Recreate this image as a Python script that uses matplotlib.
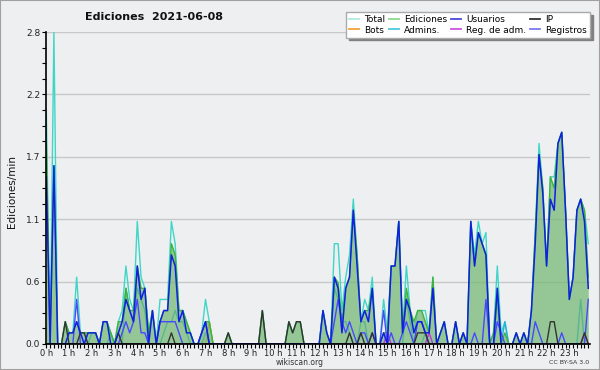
import matplotlib
matplotlib.use('Agg')
import matplotlib.pyplot as plt
import numpy as np
from matplotlib.lines import Line2D
from matplotlib.patches import Rectangle
from matplotlib.ticker import FixedLocator, MultipleLocator

# edits per minute, one value per 10-minute bin (6 per hour)
total = [
    2.1, 0, 2.8, 0, 0, 0.2,        # 0h
    0.1, 0.1, 0.6, 0.1, 0.1, 0.1,  # 1h
    0.1, 0.1, 0, 0.2, 0.2, 0.1,    # 2h
    0, 0.2, 0.3, 0.7, 0.4, 0.3,    # 3h
    1.1, 0.6, 0.5, 0.1, 0.3, 0,    # 4h
    0.4, 0.4, 0.4, 1.1, 0.9, 0.3,  # 5h
    0.3, 0.2, 0.1, 0, 0, 0.1,      # 6h
    0.4, 0.2, 0, 0, 0, 0,          # 7h
    0.1, 0, 0, 0, 0, 0,            # 8h
    0, 0, 0, 0.3, 0, 0,            # 9h
    0, 0, 0, 0, 0.2, 0.1,          # 10h
    0.2, 0.2, 0, 0, 0, 0,          # 11h
    0, 0.3, 0.1, 0, 0.9, 0.9,      # 12h
    0.3, 0.6, 0.8, 1.3, 0.8, 0.2,  # 13h
    0.4, 0.3, 0.6, 0, 0, 0.4,      # 14h
    0.1, 0.7, 0.7, 1.1, 0.1, 0.7,  # 15h
    0.3, 0.1, 0.3, 0.3, 0.3, 0.1,  # 16h
    0.6, 0, 0.1, 0.2, 0, 0,        # 17h
    0.2, 0, 0.1, 0, 1.1, 0.8,      # 18h
    1.1, 0.9, 1.0, 0, 0.1, 0.7,    # 19h
    0.1, 0.2, 0, 0, 0.1, 0,        # 20h
    0.1, 0, 0.3, 1.0, 1.8, 1.4,    # 21h
    0.7, 1.5, 1.5, 1.8, 1.9, 1.2,  # 22h
    0.4, 0.6, 1.2, 1.3, 1.2, 0.9,  # 23h
]
ediciones = [
    1.8, 0, 1.6, 0, 0, 0.2,
    0.1, 0.1, 0.2, 0.1, 0.1, 0.1,
    0.1, 0.1, 0, 0.2, 0.2, 0.1,
    0, 0.2, 0.2, 0.5, 0.3, 0.3,
    0.7, 0.5, 0.5, 0.1, 0.3, 0,
    0.2, 0.3, 0.3, 0.9, 0.8, 0.3,
    0.3, 0.2, 0.1, 0, 0, 0.1,
    0.2, 0.2, 0, 0, 0, 0,
    0.1, 0, 0, 0, 0, 0,
    0, 0, 0, 0.3, 0, 0,
    0, 0, 0, 0, 0.2, 0.1,
    0.2, 0.2, 0, 0, 0, 0,
    0, 0.3, 0.1, 0, 0.6, 0.55,
    0.2, 0.5, 0.6, 1.2, 0.8, 0.2,
    0.3, 0.3, 0.5, 0, 0, 0.1,
    0.1, 0.7, 0.7, 1.1, 0.1, 0.5,
    0.3, 0.2, 0.3, 0.3, 0.2, 0.1,
    0.6, 0, 0.1, 0.2, 0, 0,
    0.2, 0, 0.1, 0, 1.1, 0.7,
    1.0, 0.9, 0.8, 0, 0.1, 0.5,
    0, 0.1, 0, 0, 0.1, 0,
    0.1, 0, 0.3, 1.0, 1.7, 1.4,
    0.7, 1.5, 1.4, 1.8, 1.9, 1.2,
    0.4, 0.6, 1.2, 1.3, 1.2, 0.6,
]
usuarios = [
    1.5, 0, 1.6, 0, 0, 0,
    0.1, 0.1, 0.2, 0.1, 0, 0.1,
    0.1, 0.1, 0, 0.2, 0.2, 0,
    0, 0.1, 0.2, 0.4, 0.3, 0.2,
    0.7, 0.4, 0.5, 0, 0.3, 0,
    0.2, 0.3, 0.3, 0.8, 0.7, 0.2,
    0.3, 0.1, 0.1, 0, 0, 0.1,
    0.2, 0, 0, 0, 0, 0,
    0, 0, 0, 0, 0, 0,
    0, 0, 0, 0, 0, 0,
    0, 0, 0, 0, 0, 0,
    0, 0, 0, 0, 0, 0,
    0, 0.3, 0.1, 0, 0.6, 0.5,
    0.1, 0.5, 0.6, 1.2, 0.7, 0.2,
    0.3, 0.2, 0.5, 0, 0, 0.1,
    0, 0.7, 0.7, 1.1, 0.1, 0.4,
    0.3, 0.1, 0.2, 0.2, 0.1, 0.1,
    0.5, 0, 0.1, 0.2, 0, 0,
    0.2, 0, 0.1, 0, 1.1, 0.7,
    1.0, 0.9, 0.8, 0, 0, 0.5,
    0, 0, 0, 0, 0.1, 0,
    0.1, 0, 0.3, 0.9, 1.7, 1.35,
    0.7, 1.3, 1.2, 1.8, 1.9, 1.2,
    0.4, 0.6, 1.2, 1.3, 1.1, 0.5,
]
ip = [
    0, 0, 0, 0, 0, 0.2,
    0, 0, 0, 0.1, 0.1, 0,
    0, 0, 0, 0, 0, 0,
    0, 0.1, 0, 0, 0, 0,
    0, 0, 0, 0, 0, 0,
    0, 0, 0, 0.1, 0, 0,
    0, 0, 0, 0, 0, 0,
    0, 0, 0, 0, 0, 0,
    0.1, 0, 0, 0, 0, 0,
    0, 0, 0, 0.3, 0, 0,
    0, 0, 0, 0, 0.2, 0.1,
    0.2, 0.2, 0, 0, 0, 0,
    0, 0, 0, 0, 0, 0,
    0, 0, 0.1, 0, 0, 0.1,
    0, 0, 0.1, 0, 0, 0,
    0, 0, 0, 0, 0, 0,
    0, 0, 0.1, 0.1, 0.1, 0,
    0, 0, 0, 0, 0, 0,
    0, 0, 0, 0, 0, 0,
    0, 0, 0, 0, 0, 0,
    0, 0, 0, 0, 0, 0,
    0, 0, 0, 0, 0, 0,
    0, 0.2, 0.2, 0, 0, 0,
    0, 0, 0, 0, 0.1, 0,
]
bots = [0] * 43 + [0.2] + [0] * 100
admins = [
    0, 0, 0, 0, 0, 0,
    0, 0, 0, 0, 0, 0,
    0.1, 0.1, 0, 0, 0, 0.1,
    0, 0, 0, 0.5, 0.3, 0.2,
    0.5, 0.4, 0.3, 0, 0, 0,
    0, 0.1, 0.2, 0.2, 0.3, 0.2,
    0.2, 0.1, 0, 0, 0, 0,
    0.1, 0, 0, 0, 0, 0,
    0, 0, 0, 0, 0, 0,
    0, 0, 0, 0, 0, 0,
    0, 0, 0, 0, 0, 0,
    0, 0, 0, 0, 0, 0,
    0, 0, 0, 0, 0.5, 0.4,
    0.2, 0.2, 0.1, 0, 0, 0.2,
    0.2, 0, 0, 0, 0, 0,
    0, 0, 0, 0, 0, 0.4,
    0.2, 0, 0, 0, 0.1, 0,
    0, 0, 0, 0, 0, 0,
    0, 0, 0, 0, 0, 0,
    0, 0, 0, 0, 0, 0.4,
    0, 0.2, 0, 0, 0, 0,
    0, 0, 0, 0, 0, 0,
    0, 0, 0, 0, 0, 0,
    0, 0, 0, 0.4, 0, 0,
]
reg_adm = [0] * 90 + [0.1] + [0] * 10 + [0.1] + [0] * 40 + [0.1, 0]
registros = [
    0, 0, 0, 0, 0, 0,
    0, 0, 0.4, 0, 0, 0,
    0, 0, 0, 0, 0, 0,
    0, 0, 0.1, 0.2, 0.1, 0.2,
    0.4, 0.1, 0.1, 0, 0, 0,
    0.2, 0.2, 0.2, 0.2, 0.2, 0.1,
    0, 0, 0, 0, 0, 0.1,
    0.2, 0, 0, 0, 0, 0,
    0, 0, 0, 0, 0, 0,
    0, 0, 0, 0, 0, 0,
    0, 0, 0, 0, 0, 0,
    0, 0, 0, 0, 0, 0,
    0, 0, 0, 0, 0.2, 0.4,
    0.2, 0.1, 0.2, 0.1, 0, 0.1,
    0.1, 0, 0.1, 0, 0, 0.3,
    0, 0.1, 0, 0, 0.1, 0.2,
    0.1, 0, 0.2, 0.2, 0.1, 0,
    0, 0, 0, 0, 0, 0,
    0, 0, 0, 0, 0, 0.1,
    0, 0, 0.4, 0, 0, 0.2,
    0.1, 0, 0, 0, 0, 0,
    0, 0, 0, 0.2, 0.1, 0,
    0, 0, 0, 0, 0.1, 0,
    0, 0, 0, 0, 0, 0.4,
]
hour_labels = ["%d h" % h for h in range(24)]
legend_names = ["Total", "Ediciones", "Usuarios", "IP",
                "Bots", "Admins.", "Reg. de adm.", "Registros"]

bg = '#eeeff1'
x = np.arange(len(total))

fig = plt.figure(figsize=(6, 3.7), dpi=100, facecolor=bg)
ax = fig.add_axes([0.0762, 0.0703, 0.9071, 0.8432], facecolor=bg)

# lines under the green area
ax.plot(x, total, color='#3fd6c8', lw=1.0, zorder=2)
ax.plot(x, admins, color='#22b4d8', lw=1.0, zorder=2)
ax.plot(x, bots, color='#f0a020', lw=1.0, zorder=2)
ax.fill_between(x, ediciones, color='#70b770', alpha=0.7, lw=0, zorder=3)
ax.plot(x, ediciones, color='#3cb43c', lw=1.0, zorder=4)
# lines above it
ax.plot(x, reg_adm, color='#c030e0', lw=1.0, zorder=5)
ax.plot(x, registros, color='#4848ff', lw=1.0, zorder=5)
ax.plot(x, ip, color='#333333', lw=1.0, zorder=6)
ax.plot(x, usuarios, color='#1020e0', lw=1.1, zorder=7)

ax.set_xlim(-0.16, 143.45)
ax.set_ylim(0, 2.8)

yt = [0, 0.56, 1.12, 1.68, 2.24, 2.8]
ax.set_yticks(yt)
ax.set_yticklabels(["%.1f" % v for v in yt])
ax.yaxis.set_minor_locator(MultipleLocator(0.14))
ax.set_xticks(np.arange(0, 144, 6))
ax.set_xticklabels(hour_labels)
ax.xaxis.set_minor_locator(FixedLocator(np.arange(144)))
ax.tick_params(which='both', direction='out', length=3, width=0.8, color='black')
ax.tick_params(axis='y', labelsize=6.5, pad=1, labelcolor='#222222')
ax.tick_params(axis='x', labelsize=6, pad=0.5, labelcolor='#222222')

ax.grid(axis='y', color='#c8c8c8', lw=1.0, zorder=0)
ax.set_axisbelow(True)
for s in ['top', 'right']:
    ax.spines[s].set_visible(False)
for s in ['left', 'bottom']:
    ax.spines[s].set_linewidth(1.2)
    ax.spines[s].set_zorder(10)

fig.text(0.2567, 0.954, "Ediciones  2021-06-08", ha='center', va='center',
         fontsize=8, fontweight='bold', color='#111111')
fig.text(0.02, 0.4824, "Ediciones/min", rotation=90, ha='center', va='center',
         fontsize=7.5, color='#111111')
fig.text(0.5, 0.0216, "wikiscan.org", ha='center', va='center', fontsize=5.5, color='#333333')
fig.text(0.948, 0.0216, "CC BY-SA 3.0", ha='center', va='center', fontsize=4.5, color='#333333')

leg_colors = ['#aeeae2', '#8cd98c', '#4a4ad8', '#333333',
              '#f2a33a', '#4cc8dc', '#cc55dd', '#7b7bee']
handles = [Line2D([], [], color=c, lw=1.3) for c in leg_colors]
order = [0, 4, 1, 5, 2, 6, 3, 7]
leg = fig.legend([handles[i] for i in order], [legend_names[i] for i in order],
                 ncol=4, loc='upper right', bbox_to_anchor=(0.984, 0.9676),
                 bbox_transform=fig.transFigure, fontsize=6.5, frameon=True,
                 fancybox=False, shadow={'color': '#808080', 'alpha': 1.0},
                 handlelength=1.1, handletextpad=0.6, columnspacing=0.4,
                 labelspacing=0.15, borderpad=0.35, borderaxespad=0)
leg.get_frame().set_facecolor('white')
leg.get_frame().set_edgecolor('#aaaaaa')
leg.get_frame().set_linewidth(1.0)

fig.patches.append(Rectangle((0, 0), 1, 1, transform=fig.transFigure, fill=False,
                             edgecolor='#a0a0a0', lw=1.5))

fig.savefig('out.png', dpi=100, facecolor=bg)
